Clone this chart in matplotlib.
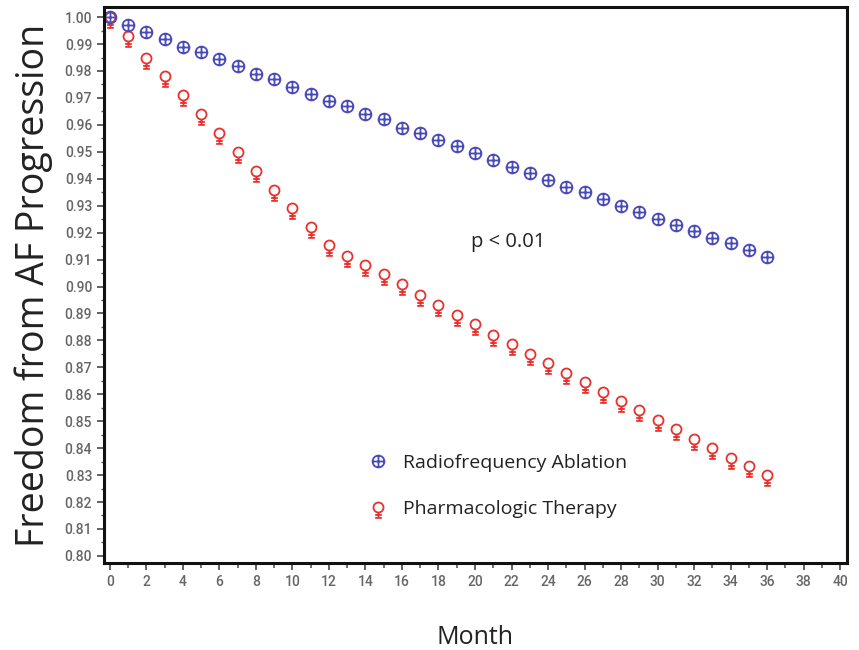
import numpy as np
import matplotlib
matplotlib.use("Agg")
from matplotlib import pyplot as plt
from matplotlib.path import Path
from matplotlib.ticker import MultipleLocator

# Data
months = list(range(0, 37))
rfa = [1.000, 0.997, 0.9945, 0.992, 0.989, 0.987, 0.9845, 0.982, 0.979, 0.977,
       0.974, 0.9715, 0.969, 0.967, 0.964, 0.962, 0.959, 0.957, 0.9545, 0.952,
       0.9495, 0.947, 0.9445, 0.942, 0.9395, 0.937, 0.935, 0.9325, 0.930, 0.9275,
       0.925, 0.923, 0.9205, 0.918, 0.916, 0.9135, 0.911]
pharm = [1.000, 0.993, 0.985, 0.978, 0.971, 0.964, 0.957, 0.950, 0.943, 0.936,
         0.929, 0.922, 0.9155, 0.9115, 0.908, 0.9045, 0.901, 0.897, 0.893, 0.8895,
         0.886, 0.882, 0.8785, 0.875, 0.8715, 0.868, 0.8645, 0.861, 0.8575, 0.854,
         0.8505, 0.847, 0.8435, 0.840, 0.8365, 0.8335, 0.830]
labels = ["Radiofrequency Ablation", "Pharmacologic Therapy"]
xticks = list(range(0, 41, 2))
yticks = [round(0.80 + 0.01 * i, 2) for i in range(21)]


def seg(p0, p1):
    return Path([p0, p1], [Path.MOVETO, Path.LINETO])


# circle with a plus inside
plus_circle = Path.make_compound_path(
    Path.circle((0, 0), 1.0), seg((-1, 0), (1, 0)), seg((0, -1), (0, 1)))
# circle with a stem and bars below (female-sign like)
venus = Path.make_compound_path(
    Path.circle((0, 0), 0.6), seg((0, -0.6), (0, -1.25)),
    seg((-0.4, -0.9), (0.4, -0.9)), seg((-0.4, -1.25), (0.4, -1.25)))

blue = "#4a4ab8"
red = "#e8302c"

fig = plt.figure(figsize=(8.59, 6.5), dpi=100)
ax = fig.add_axes([0.121, 0.134, 0.865, 0.855])

ax.plot(months, pharm, linestyle="none", marker=venus, markersize=15,
        mfc="none", mec=red, mew=1.3, label=labels[1])
ax.plot(months, rfa, linestyle="none", marker=plus_circle, markersize=8.5,
        mfc="none", mec=blue, mew=1.3, label=labels[0])

ax.set_xlim(-0.33, 40.38)
ax.set_ylim(0.7974, 1.0037)
ax.set_xticks(xticks)
ax.set_yticks(yticks)
ax.set_yticklabels([f"{v:.2f}" for v in yticks])
ax.xaxis.set_minor_locator(MultipleLocator(1))
ax.yaxis.set_minor_locator(MultipleLocator(0.005))

for s in ax.spines.values():
    s.set_linewidth(2.2)
    s.set_color("#111111")

ax.tick_params(axis="both", which="major", length=5, width=1.3, color="#555555",
               labelcolor="#666666", labelsize=10)
ax.tick_params(axis="x", which="minor", length=3.5, width=1.2, color="#555555")
ax.tick_params(axis="y", which="minor", length=2, width=1.0, color="#555555")
for lab in ax.get_xticklabels() + ax.get_yticklabels():
    lab.set_family("Roboto")
    lab.set_weight("medium")

ax.set_xlabel("Month", fontsize=18, family="Open Sans", color="#222222", labelpad=26)
ax.set_ylabel("Freedom from AF Progression", fontsize=27, family="Open Sans",
              color="#222222", labelpad=8)

ax.text(0.544, 0.577, "p < 0.01", transform=ax.transAxes, fontsize=14.5,
        family="Open Sans", color="#222222", ha="center", va="center")

h, l = ax.get_legend_handles_labels()
leg = ax.legend(h[::-1], l[::-1], loc="upper left", bbox_to_anchor=(0.332, 0.228),
                frameon=False, handlelength=1.0, handletextpad=0.8,
                labelspacing=1.47, prop={"family": "Open Sans", "size": 14})
for t in leg.get_texts():
    t.set_color("#222222")

fig.savefig("out.png", dpi=100)
